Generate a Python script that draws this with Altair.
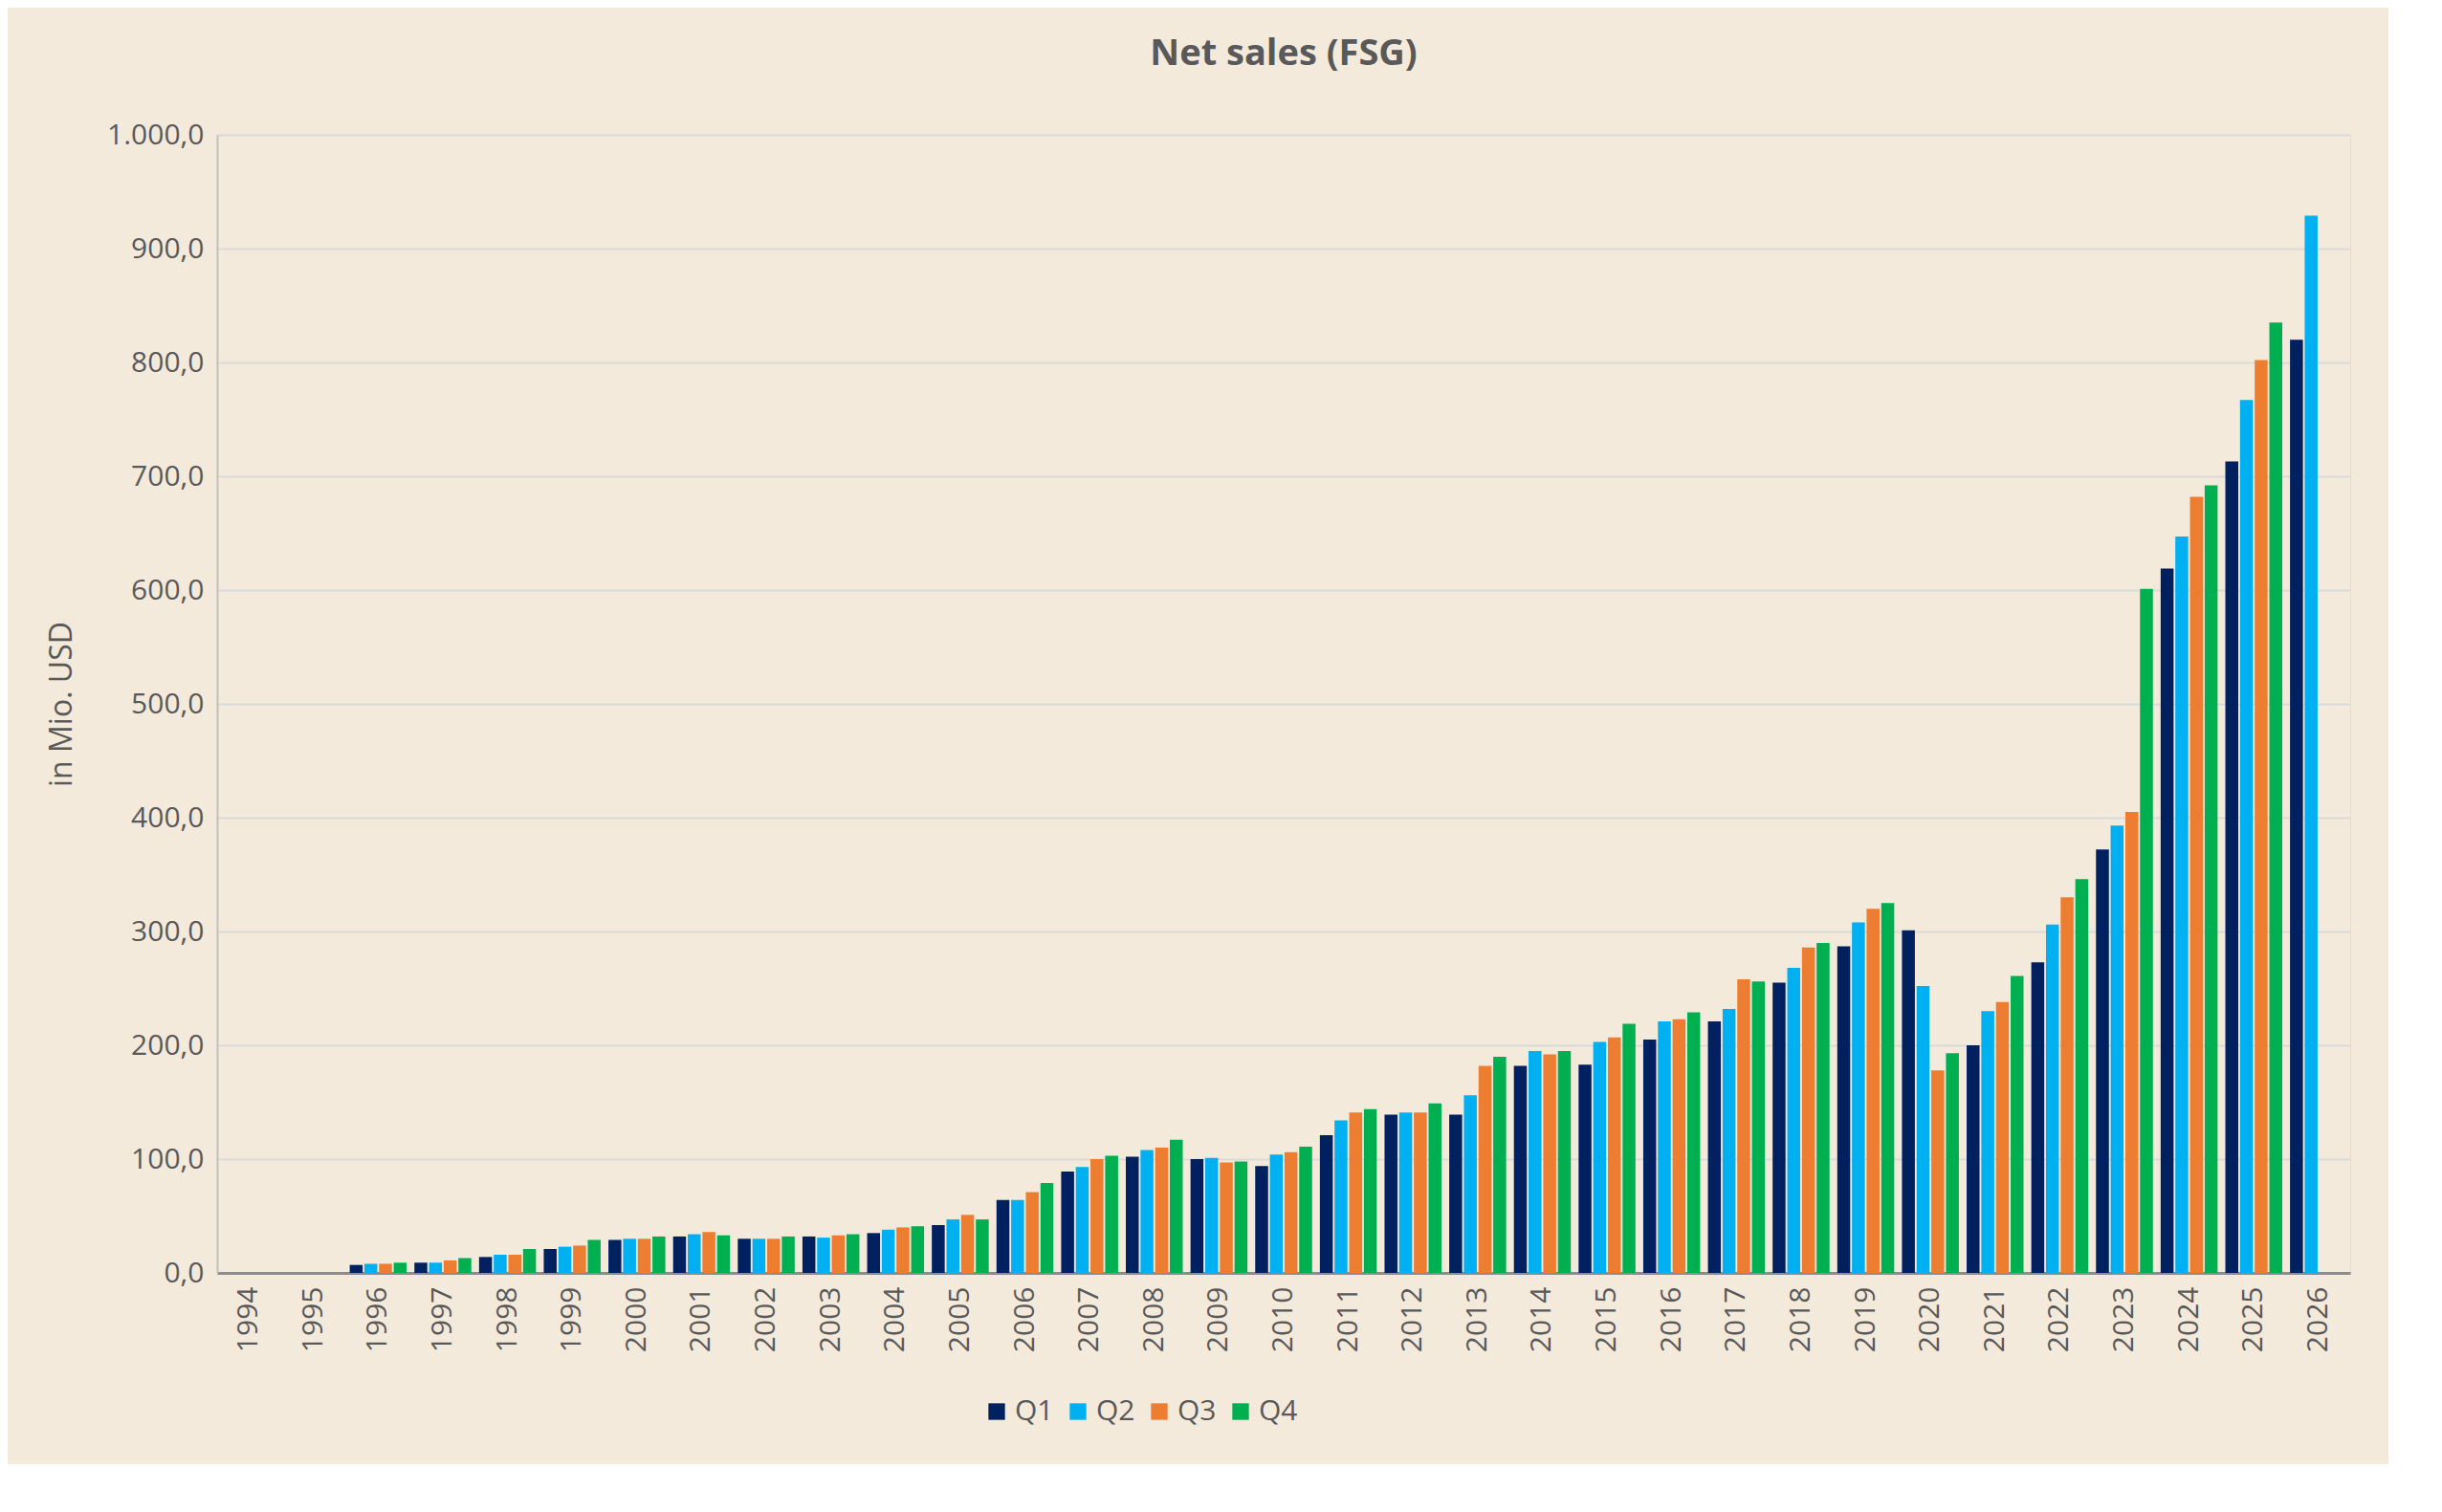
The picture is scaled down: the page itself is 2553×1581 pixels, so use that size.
import altair as alt
import pandas as pd

years = [str(y) for y in range(1994, 2027)]
quarters = ["Q1", "Q2", "Q3", "Q4"]

# quarterly net sales in Mio. USD, starting 1996 Q1
sales = [
    7, 8, 8, 9,
    9, 9, 11, 13,
    14, 16, 16, 21,
    21, 23, 24, 29,
    29, 30, 30, 32,
    32, 34, 36, 33,
    30, 30, 30, 32,
    32, 31, 33, 34,
    35, 38, 40, 41,
    42, 47, 51, 47,
    64, 64, 71, 79,
    89, 93, 100, 103,
    102, 108, 110, 117,
    100, 101, 97, 98,
    94, 104, 106, 111,
    121, 134, 141, 144,
    139, 141, 141, 149,
    139, 156, 182, 190,
    182, 195, 192, 195,
    183, 203, 207, 219,
    205, 221, 223, 229,
    221, 232, 258, 256,
    255, 268, 286, 290,
    287, 308, 320, 325,
    301, 252, 178, 193,
    200, 230, 238, 261,
    273, 306, 330, 346,
    372, 393, 405, 601,
    619, 647, 682, 692,
    713, 767, 802, 835,
    820, 929,
]
colors = ["#002060", "#00B0F0", "#ED7D31", "#00B050"]

rows = []
for i, v in enumerate(sales):
    rows.append({"Year": str(1996 + i // 4), "Quarter": quarters[i % 4], "Sales": v})
df = pd.DataFrame(rows)

de_fmt = "replace(replace(replace(format(datum.value, ',.1f'), ',', '_'), '.', ','), '_', '.')"

chart = (
    alt.Chart(df)
    .mark_bar()
    .encode(
        x=alt.X(
            "Year:N",
            title=None,
            scale=alt.Scale(domain=years, paddingInner=0.12, paddingOuter=0.05),
            axis=alt.Axis(labelAngle=270, labelFontSize=30, labelColor="#595959",
                          domainColor="#8c8c8c", domainWidth=3, ticks=False,
                          labelPadding=14),
        ),
        xOffset=alt.XOffset("Quarter:N", scale=alt.Scale(domain=quarters, paddingInner=0.12)),
        y=alt.Y(
            "Sales:Q",
            title="in Mio. USD",
            scale=alt.Scale(domain=[0, 1000]),
            axis=alt.Axis(values=list(range(0, 1001, 100)), labelExpr=de_fmt,
                          labelFontSize=30, labelColor="#595959", titleFontSize=32,
                          titleColor="#595959", titleFontWeight="normal",
                          gridColor="#d9d9d9", gridWidth=2, domainColor="#bfbfbf",
                          domainWidth=2, ticks=False, labelPadding=14, titlePadding=30),
        ),
        color=alt.Color(
            "Quarter:N",
            scale=alt.Scale(domain=quarters, range=colors),
            legend=alt.Legend(orient="none", legendX=800, legendY=1320,
                              direction="horizontal", title=None,
                              labelFontSize=30, labelColor="#595959", symbolType="square",
                              symbolSize=300, symbolStrokeWidth=0),
        ),
    )
    .properties(
        width=2230,
        height=1190,
        background="#F4EADB",
        title=alt.Title("Net sales (FSG)", fontSize=38, color="#595959", fontWeight="bold",
                        offset=50),
        padding={"left": 40, "right": 40, "top": 30, "bottom": 40},
    )
    .configure_view(stroke=None)
    .configure(font="Open Sans")
)

chart.save("out.html", embed_options={"renderer": "svg", "actions": False})
